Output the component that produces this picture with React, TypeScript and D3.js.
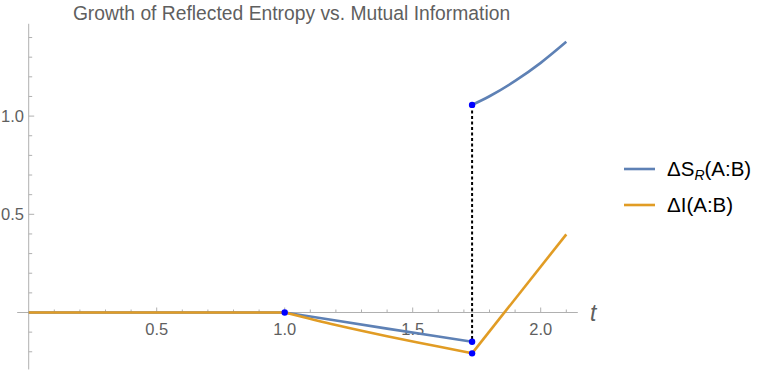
import React from 'react';
import * as d3 from 'd3';

// values
const jumpT = 1.732;

const flatT = [0, 0.5, 1.0];
const flatV = [0, 0, 0];

const srDropT = [1.0, 1.2, 1.4, 1.6, jumpT];
const srDropV = [0, -0.041, -0.082, -0.122, -0.149];

const srRiseT = [jumpT, 1.8, 1.9, 2.0, 2.1];
const srRiseV = [1.057, 1.101, 1.179, 1.271, 1.378];

const miDropT = [1.0, 1.2, 1.4, 1.6, jumpT];
const miDropV = [0, -0.064, -0.121, -0.173, -0.208];

const miRiseT = [jumpT, 2.1];
const miRiseV = [-0.208, 0.398];

const markT = [1.0, jumpT, jumpT, jumpT];
const markV = [0, -0.149, 1.057, -0.208];

const xMajor = [0.5, 1.0, 1.5, 2.0];
const yMajor = [0.5, 1.0];

const blue = '#5e81b5';
const orange = '#e19c24';
const axisGray = '#b0b0b0';
const textGray = '#5f5f5f';
const font = '"Liberation Sans", Arial, sans-serif';

const W = 766, H = 375;

export default function App() {
  const x = d3.scaleLinear().domain([0, 2]).range([28.7, 540.7]);
  const y = d3.scaleLinear().domain([0, 1]).range([312.5, 116.1]);

  const line = d3.line<[number, number]>()
    .x(d => x(d[0]))
    .y(d => y(d[1]));
  const curve = d3.line<[number, number]>()
    .x(d => x(d[0]))
    .y(d => y(d[1]))
    .curve(d3.curveMonotoneX);

  const zip = (ts: number[], vs: number[]) => ts.map((t, i) => [t, vs[i]] as [number, number]);

  const xMinor = d3.range(1, 22).map(i => i / 10).filter(v => !xMajor.some(m => Math.abs(m - v) < 1e-9));
  const yMinor = d3.range(-2, 15).map(i => i / 10).filter(v => v !== 0 && !yMajor.some(m => Math.abs(m - v) < 1e-9));

  return (
    <svg width={W} height={H} style={{ position: 'absolute', left: 0, top: 0, fontFamily: font }}>
      <rect width={W} height={H} fill="#fff" />
      <text x={291.5} y={19.5} textAnchor="middle" fontSize={19.3} fill={textGray}>
        Growth of Reflected Entropy vs. Mutual Information
      </text>

      {/* axes */}
      <line x1={x(-0.045)} x2={x(2.145)} y1={y(0)} y2={y(0)} stroke={axisGray} strokeWidth={1} />
      <line x1={x(0)} x2={x(0)} y1={y(1.47)} y2={y(-0.29)} stroke={axisGray} strokeWidth={1} />
      {xMinor.map(v => (
        <line key={'xm' + v} x1={x(v)} x2={x(v)} y1={y(0)} y2={y(0) - 3} stroke={axisGray} />
      ))}
      {xMajor.map(v => (
        <g key={'xM' + v}>
          <line x1={x(v)} x2={x(v)} y1={y(0)} y2={y(0) - 5} stroke={axisGray} />
          <text x={x(v)} y={335} textAnchor="middle" fontSize={16.5} fill={textGray}>{v.toFixed(1)}</text>
        </g>
      ))}
      {yMinor.map(v => (
        <line key={'ym' + v} x1={x(0)} x2={x(0) + 3.5} y1={y(v)} y2={y(v)} stroke={axisGray} />
      ))}
      {yMajor.map(v => (
        <g key={'yM' + v}>
          <line x1={x(0)} x2={x(0) + 5.5} y1={y(v)} y2={y(v)} stroke={axisGray} />
          <text x={24} y={y(v) + 6} textAnchor="end" fontSize={16.5} fill={textGray}>{v.toFixed(1)}</text>
        </g>
      ))}
      <text x={590} y={321} fontSize={23} fontStyle="italic" fill={textGray}>t</text>

      {/* jump */}
      <line x1={x(jumpT)} x2={x(jumpT)} y1={y(srRiseV[0])} y2={y(srDropV[srDropV.length - 1])}
        stroke="#000" strokeWidth={2} strokeDasharray="3,2.5" />

      {/* ΔS_R */}
      <g fill="none" stroke={blue} strokeWidth={2.6} strokeLinejoin="round">
        <path d={line(zip(flatT, flatV)) || ''} />
        <path d={line(zip(srDropT, srDropV)) || ''} />
        <path d={curve(zip(srRiseT, srRiseV)) || ''} />
      </g>
      {/* ΔI */}
      <g fill="none" stroke={orange} strokeWidth={2.6} strokeLinejoin="round">
        <path d={line(zip(flatT, flatV)) || ''} />
        <path d={curve(zip(miDropT, miDropV)) || ''} />
        <path d={line(zip(miRiseT, miRiseV)) || ''} />
      </g>

      {markT.map((t, i) => (
        <circle key={'p' + i} cx={x(t)} cy={y(markV[i])} r={3.2} fill="#0000ff" />
      ))}

      {/* legend */}
      <line x1={624} x2={655} y1={169} y2={169} stroke={blue} strokeWidth={2.6} />
      <text x={667} y={176} fontSize={20.5} fill="#000">
        ΔS<tspan fontSize={14} fontStyle="italic" dy={4}>R</tspan><tspan dy={-4}>(A:B)</tspan>
      </text>
      <line x1={624} x2={655} y1={205} y2={205} stroke={orange} strokeWidth={2.6} />
      <text x={667} y={212} fontSize={20.5} fill="#000">ΔI(A:B)</text>
    </svg>
  );
}
